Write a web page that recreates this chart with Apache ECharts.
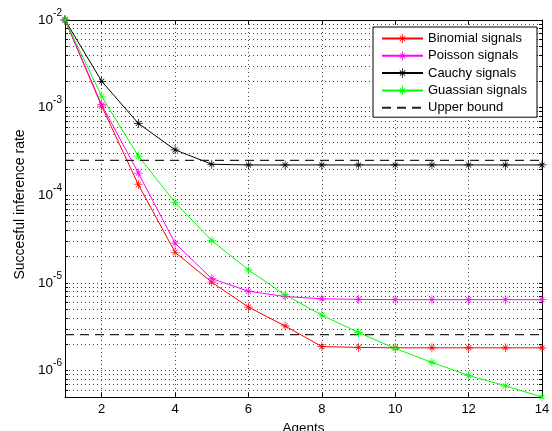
<!DOCTYPE html>
<html>
<head>
<meta charset="utf-8">
<script src="https://cdn.jsdelivr.net/npm/echarts@6/dist/echarts.min.js"></script>
<style>
html, body { margin: 0; padding: 0; background: #fff; }
#main { width: 552px; height: 431px; }
</style>
</head>
<body>
<div id="main"></div>
<script>
// data
const agents = [1, 2, 3, 4, 5, 6, 7, 8, 9, 10, 11, 12, 13, 14];
const binomial = [1e-2, 1.04e-3, 1.32e-4, 2.24e-5, 1.02e-5, 5.3e-6, 3.23e-6, 1.88e-6, 1.84e-6, 1.82e-6, 1.82e-6, 1.82e-6, 1.82e-6, 1.82e-6];
const poisson = [1e-2, 1.08e-3, 1.79e-4, 2.84e-5, 1.12e-5, 8.05e-6, 7.0e-6, 6.6e-6, 6.5e-6, 6.45e-6, 6.45e-6, 6.45e-6, 6.45e-6, 6.45e-6];
const cauchy = [1e-2, 2.0e-3, 6.6e-4, 3.3e-4, 2.26e-4, 2.22e-4, 2.22e-4, 2.22e-4, 2.22e-4, 2.22e-4, 2.22e-4, 2.22e-4, 2.22e-4, 2.22e-4];
const gaussian = [1e-2, 1.34e-3, 2.8e-4, 8.3e-5, 3.04e-5, 1.41e-5, 7.3e-6, 4.3e-6, 2.72e-6, 1.79e-6, 1.24e-6, 8.8e-7, 6.7e-7, 5e-7];
const upperBound = [2.5e-4, 2.58e-6];

const xTicks = [2, 4, 6, 8, 10, 12, 14];
const yMajor = [1e-6, 1e-5, 1e-4, 1e-3, 1e-2];
const yMin = 5e-7, yMax = 1e-2;

// minor ticks 2..9 x 10^k inside the range
let yTicks = [];
[1e-7].concat(yMajor).forEach(function (d) {
  for (let m = 1; m <= 9; m++) {
    let v = m * d;
    if (v >= yMin * 0.999 && v <= yMax * 1.001) yTicks.push(v);
  }
});

// matlab '*' marker
const star = 'path://M0 9.2H20V10.8H0Z M9.2 0H10.8V20H9.2Z M4.9 3.77L16.23 15.1L15.1 16.23L3.77 4.9Z M3.77 15.1L15.1 3.77L16.23 4.9L4.9 16.23Z';
const font = 'Liberation Sans';

function pairs(ys) {
  return agents.map(function (x, i) { return [x, ys[i]]; });
}

function lineSeries(name, ys, color) {
  return {
    name: name,
    type: 'line',
    data: pairs(ys),
    symbol: star,
    symbolSize: 9,
    clip: false,
    itemStyle: { color: color },
    lineStyle: { color: color, width: 1 },
    emphasis: { disabled: true },
    animation: false
  };
}

function boundSeries(v) {
  return {
    name: 'Upper bound',
    type: 'line',
    data: [[1, v], [14, v]],
    symbol: 'none',
    itemStyle: { color: '#222', opacity: 0 },
    lineStyle: { color: '#222', width: 1.2, type: [9, 6] },
    emphasis: { disabled: true },
    animation: false
  };
}

let chart = echarts.init(document.getElementById('main'));

let option = {
  backgroundColor: '#fff',
  animation: false,
  grid: { left: 65, top: 20, right: 10, bottom: 34, outerBoundsMode: 'none' },
  legend: {
    orient: 'vertical',
    left: 373,
    top: 27,
    width: 163,
    padding: [5, 10, 3, 8],
    itemGap: 4.3,
    itemWidth: 41,
    itemHeight: 12,
    backgroundColor: '#fff',
    borderColor: '#000',
    borderWidth: 1,
    borderRadius: 0,
    textStyle: { fontFamily: font, fontSize: 13, color: '#000' },
    data: ['Binomial signals', 'Poisson signals', 'Cauchy signals', 'Guassian signals', 'Upper bound']
  },
  xAxis: [
    {
      type: 'value',
      min: 1,
      max: 14,
      position: 'bottom',
      name: 'Agents',
      nameLocation: 'middle',
      nameGap: 23,
      nameTextStyle: { fontFamily: font, fontSize: 13.5, color: '#000' },
      axisLine: { show: true, onZero: false, lineStyle: { color: '#000', width: 1 } },
      axisTick: { show: true, inside: true, length: 4, customValues: xTicks, lineStyle: { color: '#000' } },
      axisLabel: { customValues: xTicks, margin: 6, fontFamily: font, fontSize: 13, color: '#000' },
      splitLine: { show: true, lineStyle: { color: '#444', width: 1, type: [1, 3] } }
    },
    {
      type: 'value',
      min: 1,
      max: 14,
      position: 'top',
      axisLine: { show: true, onZero: false, lineStyle: { color: '#000', width: 1 } },
      axisTick: { show: true, inside: true, length: 4, customValues: xTicks, lineStyle: { color: '#000' } },
      axisLabel: { show: false },
      splitLine: { show: false }
    }
  ],
  yAxis: [
    {
      type: 'log',
      logBase: 10,
      min: yMin,
      max: yMax,
      position: 'left',
      name: 'Succesful inference rate',
      nameLocation: 'middle',
      nameGap: 35,
      nameTextStyle: { fontFamily: font, fontSize: 14, color: '#000', padding: [0, 0, 0, 8] },
      axisLine: { show: true, onZero: false, lineStyle: { color: '#000', width: 1 } },
      axisTick: { show: true, inside: true, length: 3, customValues: yTicks, lineStyle: { color: '#000' } },
      axisLabel: {
        customValues: yMajor,
        margin: 3,
        formatter: function (v) {
          let e = Math.round(Math.log10(v));
          return '{b|10}{s|' + e + '}';
        },
        rich: {
          b: { fontFamily: font, fontSize: 13.5, color: '#000' },
          s: { fontFamily: font, fontSize: 10, color: '#000', padding: [0, 0, 14, 0] }
        }
      },
      splitLine: { show: true, lineStyle: { color: '#444', width: 1, type: [1, 3] } }
    },
    {
      type: 'log',
      logBase: 10,
      min: yMin,
      max: yMax,
      position: 'right',
      axisLine: { show: true, onZero: false, lineStyle: { color: '#000', width: 1 } },
      axisTick: { show: true, inside: true, length: 3, customValues: yTicks, lineStyle: { color: '#000' } },
      axisLabel: { show: false },
      splitLine: { show: false }
    }
  ],
  series: [
    lineSeries('Binomial signals', binomial, '#ff0000'),
    lineSeries('Poisson signals', poisson, '#ff00ff'),
    lineSeries('Cauchy signals', cauchy, '#000000'),
    lineSeries('Guassian signals', gaussian, '#00ff00'),
    boundSeries(upperBound[0]),
    boundSeries(upperBound[1])
  ]
};

chart.setOption(option);
</script>
</body>
</html>
